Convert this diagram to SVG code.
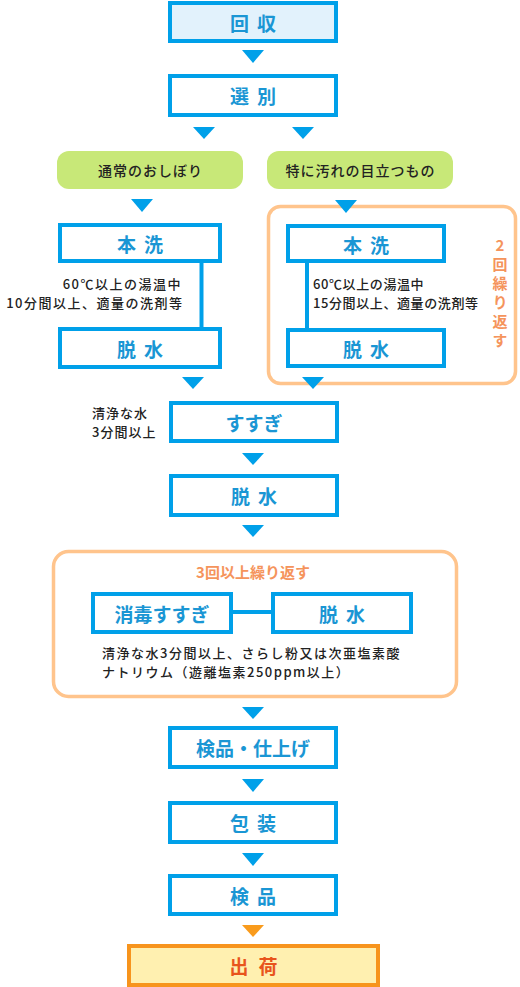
<svg xmlns="http://www.w3.org/2000/svg" width="520" height="987" viewBox="0 0 520 987">
<style>
.box{fill:#fff;stroke:#00a0e9;stroke-width:4}
.lbl{font-family:"Noto Sans CJK JP","Noto Sans",sans-serif;font-weight:bold;font-size:19px;fill:#1a96d4;text-anchor:middle;dominant-baseline:central}
.sp{letter-spacing:8px}
.arr{fill:#00a0e9}
.line{stroke:#00a0e9;stroke-width:4;fill:none}
.frame{fill:none;stroke:#ffc48c;stroke-width:3.5}
.pill{fill:#c8e878}
.ptxt{font-family:"Noto Sans CJK JP","Noto Sans",sans-serif;font-weight:500;font-size:14px;fill:#222;text-anchor:middle;dominant-baseline:central;letter-spacing:1px}
.note{font-family:"Noto Sans CJK JP","Noto Sans",sans-serif;font-weight:500;font-size:13px;fill:#222}
.or{font-family:"Noto Sans CJK JP","Noto Sans",sans-serif;font-weight:bold;font-size:15px;fill:#f5945c}
.vert{writing-mode:vertical-rl;text-orientation:upright;letter-spacing:4px}
</style>

<g id="frames">
<rect class="frame" x="268.5" y="206.5" width="247" height="177" rx="12"/>
<rect class="frame" x="53.5" y="551.5" width="403" height="145" rx="15"/>
</g>

<g id="connectors">
<line class="line" x1="201.5" y1="263" x2="201.5" y2="329"/>
<line class="line" x1="307" y1="263" x2="307" y2="330"/>
<line class="line" x1="233" y1="612" x2="273" y2="612"/>
<polygon class="arr" points="242,50 264,50 253,63"/>
<polygon class="arr" points="193,127 215,127 204,139"/>
<polygon class="arr" points="292,127 314,127 303,139"/>
<polygon class="arr" points="131,199 153,199 142,212"/>
<polygon class="arr" points="335,200 357,200 346,213"/>
<polygon class="arr" points="182,377 204,377 193,389"/>
<polygon class="arr" points="302,377 324,377 313,389"/>
<polygon class="arr" points="242,453 264,453 253,465"/>
<polygon class="arr" points="242,525 264,525 253,537"/>
<polygon class="arr" points="242,707 264,707 253,719"/>
<polygon class="arr" points="242,779 264,779 253,792"/>
<polygon class="arr" points="242,853 264,853 253,866"/>
<polygon fill="#f99b1c" points="242,925 264,925 253,937"/>
</g>

<g id="n-kaishu">
<rect x="170" y="3" width="166" height="38" fill="#e2f2fc" stroke="#00a0e9" stroke-width="4"/>
<text class="lbl sp" x="257" y="22">回収</text>
</g>
<g id="n-senbetsu">
<rect class="box" x="170" y="76" width="166" height="39"/>
<text class="lbl sp" x="257" y="95.5">選別</text>
</g>

<g id="n-normal">
<rect class="pill" x="57" y="151" width="186" height="38" rx="12"/>
<text class="ptxt" x="150.5" y="170">通常のおしぼり</text>
</g>
<g id="n-dirty">
<rect class="pill" x="267" y="151" width="186" height="38" rx="12"/>
<text class="ptxt" x="360.5" y="170">特に汚れの目立つもの</text>
</g>

<g id="n-honsen-l">
<rect class="box" x="60" y="225" width="160" height="36"/>
<text class="lbl sp" x="144" y="243">本洗</text>
</g>
<g id="n-dassui-l">
<rect class="box" x="60" y="329" width="160" height="38"/>
<text class="lbl sp" x="144" y="348">脱水</text>
</g>
<g id="note-l">
<text class="note" text-anchor="end" letter-spacing="1.5"><tspan x="182" y="289">60℃以上の湯温中</tspan><tspan x="183.5" y="308">10分間以上、適量の洗剤等</tspan></text>
</g>

<g id="n-honsen-r">
<rect class="box" x="288" y="226" width="156" height="35"/>
<text class="lbl sp" x="370" y="244">本洗</text>
</g>
<g id="n-dassui-r">
<rect class="box" x="288" y="330" width="156" height="36"/>
<text class="lbl sp" x="370" y="348">脱水</text>
</g>
<g id="note-r">
<text class="note" letter-spacing="0.6"><tspan x="313" y="289">60℃以上の湯温中</tspan><tspan x="313" y="308">15分間以上、適量の洗剤等</tspan></text>
</g>
<g id="n-repeat2">
<text class="or vert" x="500" y="238" font-size="14">2回繰り返す</text>
</g>

<g id="n-susugi">
<rect class="box" x="171" y="403" width="166" height="38"/>
<text class="lbl" x="254" y="422">すすぎ</text>
</g>
<g id="note-susugi">
<text class="note" letter-spacing="1"><tspan x="92" y="418">清浄な水</tspan><tspan x="92" y="437">3分間以上</tspan></text>
</g>
<g id="n-dassui2">
<rect class="box" x="171" y="476" width="166" height="39"/>
<text class="lbl sp" x="258" y="495.5">脱水</text>
</g>

<g id="n-repeat3">
<text class="or" text-anchor="middle" x="253" y="578" font-size="14">3回以上繰り返す</text>
</g>
<g id="n-shodoku">
<rect class="box" x="93" y="594" width="138" height="38"/>
<text class="lbl" x="162" y="613">消毒すすぎ</text>
</g>
<g id="n-dassui3">
<rect class="box" x="273" y="594" width="138" height="38"/>
<text class="lbl sp" x="346" y="613">脱水</text>
</g>
<g id="note-shodoku">
<text class="note" letter-spacing="1.5"><tspan x="102" y="658">清浄な水3分間以上、さらし粉又は次亜塩素酸</tspan><tspan x="102" y="677">ナトリウム（遊離塩素250ppm以上）</tspan></text>
</g>

<g id="n-kenpin-shiage">
<rect class="box" x="170" y="728" width="166" height="39"/>
<text class="lbl" x="253" y="747.5">検品・仕上げ</text>
</g>
<g id="n-housou">
<rect class="box" x="170" y="803" width="166" height="39"/>
<text class="lbl sp" x="257" y="822.5">包装</text>
</g>
<g id="n-kenpin">
<rect class="box" x="170" y="876" width="166" height="38"/>
<text class="lbl sp" x="257" y="895">検品</text>
</g>
<g id="n-shukka">
<rect x="129" y="946" width="249" height="39" fill="#fff0b0" stroke="#f7941d" stroke-width="4"/>
<text class="lbl" x="258.5" y="965.5" style="fill:#e8541c;letter-spacing:10px">出荷</text>
</g>
</svg>
